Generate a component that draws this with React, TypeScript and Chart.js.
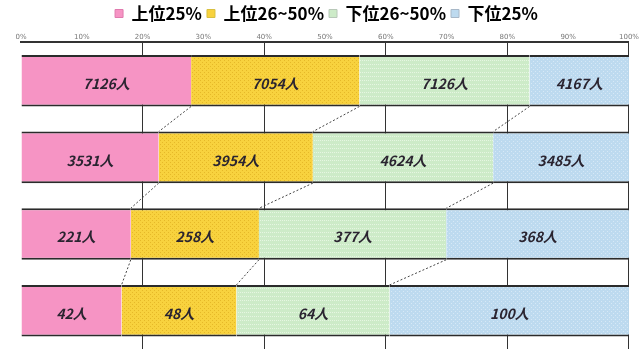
import React, { useEffect, useRef } from "react";
import { Chart, registerables } from "chart.js";

Chart.register(...registerables);

const categories = ["区分1", "区分2", "区分3", "区分4"];
const seriesNames = ["上位25%", "上位26~50%", "下位26~50%", "下位25%"];
const top25 = [7126, 3531, 221, 42];
const top26to50 = [7054, 3954, 258, 48];
const bottom26to50 = [7126, 4624, 377, 64];
const bottom25 = [4167, 3485, 368, 100];
const xTickValues = [0, 10, 20, 30, 40, 50, 60, 70, 80, 90, 100];

const baseColors = ["#F694C4", "#F8D23E", "#CDEBC8", "#BDDAEF"];
const dotColors = ["#F694C4", "#E6B828", "#E6F6E2", "#D6E8F6"];
const legendBorders = ["#E07AAE", "#D8C040", "#B8C8B8", "#A8B8C8"];

function makePattern(base: string, dot: string, kind: number): CanvasPattern | string {
  const c = document.createElement("canvas");
  c.width = 4;
  c.height = 4;
  const g = c.getContext("2d");
  if (!g) return base;
  g.fillStyle = base;
  g.fillRect(0, 0, 4, 4);
  g.fillStyle = dot;
  if (kind === 1) {
    g.fillRect(0, 0, 1, 1);
    g.fillRect(2, 2, 1, 1);
  } else if (kind === 2) {
    g.fillRect(0, 0, 1, 1);
    g.fillRect(2, 0, 1, 1);
  } else if (kind === 3) {
    g.fillRect(1, 1, 1, 1);
    g.fillRect(3, 3, 1, 1);
  }
  const p = g.createPattern(c, "repeat");
  return p || base;
}

export default function App() {
  const ref = useRef<HTMLCanvasElement | null>(null);

  useEffect(() => {
    if (!ref.current) return;
    const raw = [top25, top26to50, bottom26to50, bottom25];
    const totals = categories.map((_, i) => raw.reduce((s, arr) => s + arr[i], 0));
    const pct = raw.map((arr) => arr.map((v, i) => (v / totals[i]) * 100));

    const labelPlugin = {
      id: "segLabels",
      afterDatasetsDraw(chart: any) {
        const ctx = chart.ctx;
        ctx.save();
        ctx.strokeStyle = "#444";
        ctx.lineWidth = 1;
        ctx.setLineDash([2, 2]);
        for (let d = 0; d < 3; d++) {
          const meta = chart.getDatasetMeta(d);
          for (let i = 0; i < meta.data.length - 1; i++) {
            const a = meta.data[i];
            const b = meta.data[i + 1];
            ctx.beginPath();
            ctx.moveTo(a.x, a.y + a.height / 2);
            ctx.lineTo(b.x, b.y - b.height / 2);
            ctx.stroke();
          }
        }
        ctx.setLineDash([]);
        ctx.fillStyle = "#2a2430";
        ctx.font = 'italic bold 14px "Noto Sans CJK JP"';
        ctx.textAlign = "center";
        ctx.textBaseline = "middle";
        raw.forEach((arr, d) => {
          const meta = chart.getDatasetMeta(d);
          meta.data.forEach((el: any, i: number) => {
            ctx.fillText(arr[i] + "人", (el.x + el.base) / 2, el.y + 3);
          });
        });
        ctx.restore();
      },
    };

    const chart = new Chart(ref.current, {
      type: "bar",
      data: {
        labels: categories,
        datasets: seriesNames.map((name, d) => ({
          label: name,
          data: pct[d],
          backgroundColor: makePattern(baseColors[d], dotColors[d], d) as any,
          borderColor: "#2b2b2b",
          borderWidth: { top: 2, bottom: 2, left: 0, right: 0 } as any,
          borderSkipped: false as any,
          barPercentage: 0.84,
          categoryPercentage: 0.8,
        })),
      },
      options: {
        indexAxis: "y",
        animation: false,
        responsive: false,
        maintainAspectRatio: false,
        layout: { padding: { left: 21, right: 8, top: 0, bottom: 0 } },
        plugins: {
          legend: {
            position: "top",
            labels: {
              boxWidth: 8,
              boxHeight: 8,
              padding: 5,
              color: "#222",
              font: { size: 17, weight: "bold", family: '"Noto Sans CJK JP"' },
              generateLabels: () =>
                seriesNames.map((n, d) => ({
                  text: n,
                  fillStyle: baseColors[d],
                  strokeStyle: legendBorders[d],
                  lineWidth: 1,
                  hidden: false,
                  datasetIndex: d,
                })),
            },
          },
          tooltip: { enabled: false },
        },
        scales: {
          x: {
            position: "top",
            stacked: true,
            min: 0,
            max: 100,
            afterBuildTicks: (scale: any) => {
              scale.ticks = xTickValues.map((v) => ({ value: v }));
            },
            ticks: {
              callback: (v: any) => v + "%",
              font: { size: 7, family: '"DejaVu Sans"' },
              color: "#777",
              padding: 1,
              maxRotation: 0,
              autoSkip: false,
            },
            grid: {
              tickLength: 0,
              lineWidth: 1,
              color: (c: any) =>
                c.tick && c.tick.value % 20 === 0 && c.tick.value !== 0 ? "#333" : "rgba(0,0,0,0)",
            },
            border: { display: true, color: "#333", width: 2 },
          },
          y: {
            stacked: true,
            display: false,
          },
        },
      },
      plugins: [labelPlugin],
    } as any);
    return () => chart.destroy();
  }, []);

  return (
    <div style={{ position: "fixed", left: 0, top: 0, width: 640, height: 349, background: "#fff" }}>
      <canvas ref={ref} width={640} height={349} style={{ width: 640, height: 349 }} />
    </div>
  );
}
